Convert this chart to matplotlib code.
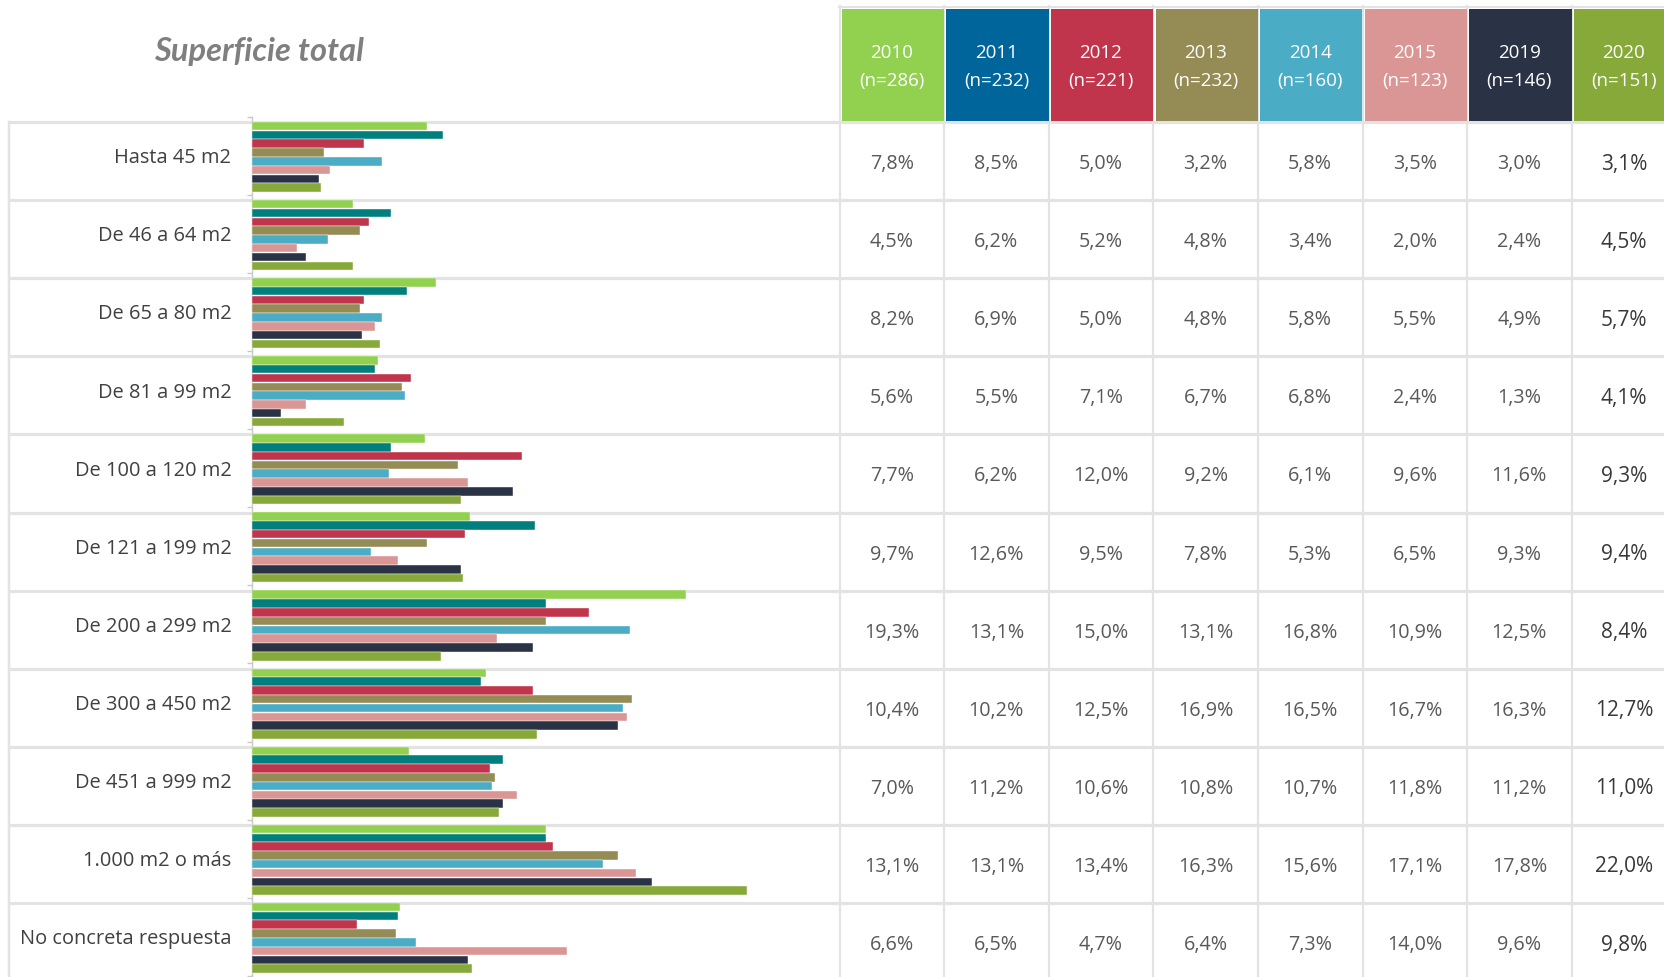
import matplotlib
matplotlib.use("Agg")
import matplotlib.pyplot as plt
from matplotlib.patches import Rectangle
from matplotlib import font_manager
import numpy as np

# ---------------- data ----------------
categories = ["Hasta 45 m2", "De 46 a 64 m2", "De 65 a 80 m2", "De 81 a 99 m2",
              "De 100 a 120 m2", "De 121 a 199 m2", "De 200 a 299 m2",
              "De 300 a 450 m2", "De 451 a 999 m2", "1.000 m2 o más",
              "No concreta respuesta"]
years = ["2010", "2011", "2012", "2013", "2014", "2015", "2019", "2020"]
sample_n = ["(n=286)", "(n=232)", "(n=221)", "(n=232)", "(n=160)", "(n=123)",
            "(n=146)", "(n=151)"]
v2010 = [7.8, 4.5, 8.2, 5.6, 7.7, 9.7, 19.3, 10.4, 7.0, 13.1, 6.6]
v2011 = [8.5, 6.2, 6.9, 5.5, 6.2, 12.6, 13.1, 10.2, 11.2, 13.1, 6.5]
v2012 = [5.0, 5.2, 5.0, 7.1, 12.0, 9.5, 15.0, 12.5, 10.6, 13.4, 4.7]
v2013 = [3.2, 4.8, 4.8, 6.7, 9.2, 7.8, 13.1, 16.9, 10.8, 16.3, 6.4]
v2014 = [5.8, 3.4, 5.8, 6.8, 6.1, 5.3, 16.8, 16.5, 10.7, 15.6, 7.3]
v2015 = [3.5, 2.0, 5.5, 2.4, 9.6, 6.5, 10.9, 16.7, 11.8, 17.1, 14.0]
v2019 = [3.0, 2.4, 4.9, 1.3, 11.6, 9.3, 12.5, 16.3, 11.2, 17.8, 9.6]
v2020 = [3.1, 4.5, 5.7, 4.1, 9.3, 9.4, 8.4, 12.7, 11.0, 22.0, 9.8]
series = [v2010, v2011, v2012, v2013, v2014, v2015, v2019, v2020]

header_colors = ["#92D050", "#00659A", "#C0354B", "#958B54", "#4BACC6",
                 "#D99694", "#2A3245", "#86A93A"]
bar_colors = ["#92D050", "#007F7E", "#C0354B", "#958B54", "#4BACC6",
              "#D99694", "#2A3245", "#86A93A"]

# ---------------- fonts ----------------
names = {f.name for f in font_manager.fontManager.ttflist}
base_font = "Open Sans" if "Open Sans" in names else "DejaVu Sans"
title_font = "Liberation Sans Narrow" if "Liberation Sans Narrow" in names else (
    "Lato" if "Lato" in names else base_font)
plt.rcParams["font.family"] = [base_font, "DejaVu Sans"]

W, H = 1664, 977
fig = plt.figure(figsize=(W / 100, H / 100), dpi=100)
fig.patch.set_facecolor("white")

# background / table axes in pixel coordinates
ax0 = fig.add_axes([0, 0, 1, 1])
ax0.set_xlim(0, W)
ax0.set_ylim(H, 0)
ax0.axis("off")

grid_c = "#E3E3E3"
row_top = 122.0
row_h = 78.1
col_left = 840.5
col_w = 104.6
n_rows = len(categories)
px = 0.72  # points per pixel

# header
for k, (yr, n, c) in enumerate(zip(years, sample_n, header_colors)):
    x0 = col_left + k * col_w
    ax0.add_patch(Rectangle((x0 + 1.2, 9.3), col_w - 2.4, 111.4,
                            facecolor=c, edgecolor="none", zorder=2))
    ax0.text(x0 + col_w / 2 - 1, 53.5, yr, color="white", fontsize=13.5,
             ha="center", va="center", zorder=3)
    ax0.text(x0 + col_w / 2 - 1, 81, n, color="white", fontsize=13.5,
             ha="center", va="center", zorder=3)

# header frame
ax0.plot([col_left - 2, W], [7.3, 7.3], color=grid_c, lw=2 * px, zorder=1)
# horizontal row lines
for i in range(n_rows + 1):
    y = row_top + i * row_h
    ax0.plot([8.5, W], [y, y], color=grid_c, lw=3.2 * px, zorder=1,
             solid_capstyle="butt")
# left border
ax0.plot([8.5, 8.5], [row_top, H], color=grid_c, lw=2.5 * px, zorder=1)
# column separators
for k in range(len(years) + 1):
    x = col_left + k * col_w - 1
    ax0.plot([x, x], [6.3, H], color=grid_c, lw=2.2 * px, zorder=1)

# values
for k, vals in enumerate(series):
    xc = col_left + k * col_w + col_w / 2 - 1
    last = (k == len(series) - 1)
    for i, v in enumerate(vals):
        yc = row_top + (i + 0.5) * row_h + 3
        txt = f"{v:.1f}%".replace(".", ",")
        ax0.text(xc, yc, txt, ha="center", va="center",
                 fontsize=15 if last else 14.2,
                 color="#383838" if last else "#595959", zorder=3)

# title
ax0.text(259, 51, "Superficie total", fontsize=23.5, fontweight="bold",
         fontstyle="italic", color="#7F7F7F", ha="center", va="center",
         family=[title_font, "DejaVu Sans"])

# ---------------- bar axes ----------------
scale = 22.5  # px per percent
ax_left_px = 251.5
ax_right_px = 838.0
band_top = 116.7
band_bottom = band_top + n_rows * row_h
axb = fig.add_axes([ax_left_px / W, 1 - band_bottom / H,
                    (ax_right_px - ax_left_px) / W, (band_bottom - band_top) / H])
axb.set_facecolor("none")
axb.set_xlim(0, (ax_right_px - ax_left_px) / scale)
axb.set_ylim(n_rows, 0)

slot = 8.8 / row_h
offset = 5.0 / row_h
y_base = np.arange(n_rows)
for j, (vals, c) in enumerate(zip(series, bar_colors)):
    axb.barh(y_base + offset + (j + 0.5) * slot, vals, height=slot * 0.97,
             color=c, edgecolor="white", linewidth=0.3, zorder=3)

for s in ["top", "right", "bottom"]:
    axb.spines[s].set_visible(False)
axb.spines["left"].set_color("#C8C8C8")
axb.spines["left"].set_linewidth(1)
axb.spines["left"].set_zorder(1)
axb.set_xticks([])
axb.set_yticks(y_base + 0.5)
axb.set_yticklabels(categories, fontsize=14.4, color="#404040")
axb.tick_params(axis="y", which="major", length=0, pad=20 * px)
axb.set_yticks(np.arange(n_rows + 1), minor=True)
axb.tick_params(axis="y", which="minor", length=5 * px, color="#C8C8C8", width=1)

fig.savefig("out.png", dpi=100, facecolor="white")
